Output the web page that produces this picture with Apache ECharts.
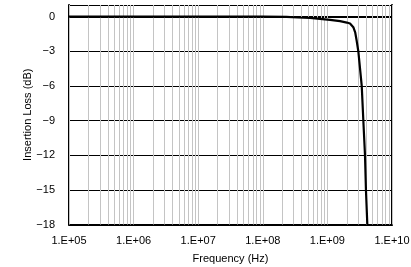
<!DOCTYPE html>
<html>
<head>
<meta charset="utf-8">
<script src="https://cdn.jsdelivr.net/npm/echarts@6/dist/echarts.min.js"></script>
<style>html,body{margin:0;padding:0;background:#fff}#c{width:411px;height:267px}</style>
</head>
<body>
<div id="c"></div>
<script>
// Frequency (Hz) and insertion loss (dB)
var freqHz = [1e5, 1e6, 1e7, 5e7, 1e8, 2.34e8, 3.5e8, 5.38e8, 7.68e8, 1.1e9, 1.57e9, 2.0e9, 2.24e9, 2.52e9, 2.70e9, 2.84e9, 3.01e9, 3.20e9, 3.40e9, 3.60e9, 3.82e9, 3.95e9, 4.15e9];
var lossDb = [0, 0, 0, 0, 0, -0.03, -0.08, -0.12, -0.2, -0.28, -0.4, -0.52, -0.6, -0.92, -1.4, -2.1, -3.0, -4.5, -6.0, -9.0, -12.0, -15.0, -18.0];
var decadeExps = [5, 6, 7, 8, 9, 10];
var minorMults = [1, 2, 3, 4, 5, 6, 7, 8, 9];
var yTicks = [0, -3, -6, -9, -12, -15, -18];

var vGrid = [];
decadeExps.forEach(function (e) {
  minorMults.forEach(function (m) {
    var v = m * Math.pow(10, e);
    if (v >= 1e5 && v <= 1e10) vGrid.push({ xAxis: v });
  });
});

var font = 'Liberation Sans, Arial, sans-serif';
var chart = echarts.init(document.getElementById('c'), null, { renderer: 'canvas' });
chart.setOption({
  animation: false,
  backgroundColor: '#fff',
  grid: { left: 69, right: 19, top: 5, bottom: 42.5, outerBoundsMode: 'none', containLabel: false },
  xAxis: [{
    type: 'log', logBase: 10, min: 1e5, max: 1e10,
    name: 'Frequency (Hz)', nameLocation: 'middle', nameGap: 29, nameMoveOverlap: false,
    nameTextStyle: { fontFamily: font, fontSize: 11, color: '#000' },
    axisLine: { show: true, onZero: false, lineStyle: { color: '#000', width: 2 } },
    axisTick: { show: false },
    splitLine: { show: false },
    axisLabel: {
      fontFamily: font, fontSize: 11, color: '#000', margin: 11,
      formatter: function (v) {
        var e = Math.round(Math.log10(v));
        return '1.E+' + (e < 10 ? '0' + e : '' + e);
      }
    }
  }, {
    type: 'log', logBase: 10, min: 1e5, max: 1e10, position: 'top',
    axisLine: { show: true, lineStyle: { color: '#000', width: 2 } },
    axisTick: { show: false }, axisLabel: { show: false }, splitLine: { show: false }
  }],
  yAxis: [{
    type: 'value', min: -18, max: 1, interval: 3,
    name: 'Insertion Loss (dB)', nameLocation: 'middle', nameGap: 36, nameMoveOverlap: false,
    nameTextStyle: { fontFamily: font, fontSize: 11, color: '#000' },
    axisLine: { show: true, onZero: false, lineStyle: { color: '#000', width: 2 } },
    axisTick: { show: false },
    splitLine: { show: true, lineStyle: { color: '#000', width: 1 } },
    axisLabel: {
      fontFamily: font, fontSize: 11, color: '#000', margin: 14,
      formatter: function (v) {
        if (yTicks.indexOf(v) < 0) return '';
        return v < 0 ? '\u2212' + (-v) : '' + v;
      }
    }
  }, {
    type: 'value', min: -18, max: 1, position: 'right',
    axisLine: { show: true, lineStyle: { color: '#000', width: 2 } },
    axisTick: { show: false }, axisLabel: { show: false }, splitLine: { show: false }
  }],
  series: [{
    type: 'line', z: -1, data: [], silent: true,
    markLine: {
      silent: true, symbol: ['none', 'none'], animation: false,
      label: { show: false },
      lineStyle: { color: '#c4c4c4', width: 1, type: 'solid' },
      emphasis: { disabled: true },
      data: vGrid
    }
  }, {
    type: 'line', z: 5,
    data: freqHz.map(function (f, i) { return [f, lossDb[i]]; }),
    showSymbol: false, smooth: false,
    lineStyle: { color: '#000', width: 2.2 }
  }]
});
</script>
</body>
</html>
